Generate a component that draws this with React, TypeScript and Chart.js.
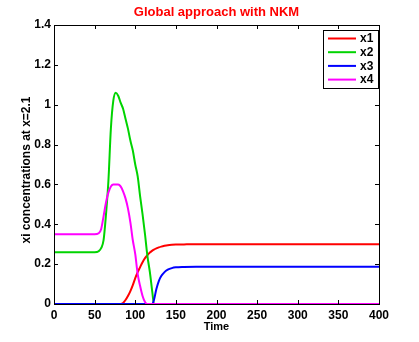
import React, { useEffect, useRef } from "react";
import { Chart, registerables } from "chart.js";

Chart.register(...registerables);

const titleText = "Global approach with NKM";
const xLabel = "Time";
const yLabel = "xi concentrations at x=2.1";
const seriesNames = ["x1", "x2", "x3", "x4"];
const seriesColors = ["#ff0000", "#00d400", "#0000ff", "#ff00ff"];

const times = [0, 50, 55, 58, 61, 64, 67, 70, 73, 76, 79, 82, 85, 88, 91, 94, 97, 100, 103, 106, 109, 112, 115, 118, 121, 123, 126, 129, 132, 136, 140, 145, 150, 160, 175, 200, 250, 300, 350, 400];

const x1 = [0, 0, 0, 0, 0, 0, 0, 0, 0, 0, 0, 0, 0.005, 0.02, 0.04, 0.065, 0.095, 0.13, 0.16, 0.185, 0.21, 0.23, 0.245, 0.258, 0.268, 0.273, 0.279, 0.284, 0.288, 0.292, 0.295, 0.297, 0.298, 0.299, 0.3, 0.3, 0.3, 0.3, 0.3, 0.3];
const x2 = [0.26, 0.26, 0.265, 0.28, 0.32, 0.45, 0.62, 0.88, 1.02, 1.06, 1.045, 1.01, 0.98, 0.93, 0.88, 0.82, 0.77, 0.7, 0.64, 0.54, 0.45, 0.35, 0.24, 0.16, 0.06, 0, 0, 0, 0, 0, 0, 0, 0, 0, 0, 0, 0, 0, 0, 0];
const x3 = [0, 0, 0, 0, 0, 0, 0, 0, 0, 0, 0, 0, 0, 0, 0, 0, 0, 0, 0, 0, 0, 0, 0, 0, 0, 0.02, 0.075, 0.115, 0.14, 0.16, 0.172, 0.18, 0.184, 0.186, 0.187, 0.187, 0.187, 0.187, 0.187, 0.187];
const x4 = [0.35, 0.35, 0.355, 0.375, 0.44, 0.51, 0.56, 0.59, 0.6, 0.6, 0.6, 0.59, 0.565, 0.53, 0.48, 0.41, 0.32, 0.25, 0.15, 0.09, 0.04, 0.01, 0, 0, 0, 0, 0, 0, 0, 0, 0, 0, 0, 0, 0, 0, 0, 0, 0, 0];

const seriesValues = [x1, x2, x3, x4];

const xMin = 0, xMax = 400, xStep = 50;
const yMin = 0, yMax = 1.4, yStep = 0.2;

const FONT = "'Liberation Sans', Arial, Helvetica, sans-serif";

const decorPlugin = {
  id: "decor",
  afterDraw(chart: any) {
    const { ctx, chartArea } = chart;
    const { left, right, top, bottom } = chartArea;
    const xs = chart.scales.x;
    const ys = chart.scales.y;
    ctx.save();
    ctx.strokeStyle = "#000";
    ctx.lineWidth = 1;
    ctx.strokeRect(Math.round(left) + 0.5, Math.round(top) + 0.5, Math.round(right - left), Math.round(bottom - top));
    const tl = 4;
    ctx.beginPath();
    for (let v = xMin; v <= xMax + 1e-9; v += xStep) {
      const px = Math.round(xs.getPixelForValue(v)) + 0.5;
      ctx.moveTo(px, bottom);
      ctx.lineTo(px, bottom - tl);
      ctx.moveTo(px, top);
      ctx.lineTo(px, top + tl);
    }
    for (let v = yMin; v <= yMax + 1e-9; v += yStep) {
      const py = Math.round(ys.getPixelForValue(v)) + 0.5;
      ctx.moveTo(left, py);
      ctx.lineTo(left + tl, py);
      ctx.moveTo(right, py);
      ctx.lineTo(right - tl, py);
    }
    ctx.stroke();

    ctx.fillStyle = "#ff0000";
    ctx.font = `bold 13px ${FONT}`;
    ctx.textAlign = "center";
    ctx.textBaseline = "middle";
    ctx.fillText(titleText, (left + right) / 2, 12);

    ctx.fillStyle = "#000";
    ctx.font = `bold 11px ${FONT}`;
    ctx.fillText(xLabel, (left + right) / 2, 327);
    ctx.save();
    ctx.translate(26.5, 170);
    ctx.rotate(-Math.PI / 2);
    ctx.font = `bold 12px ${FONT}`;
    ctx.fillText(yLabel, 0, 0);
    ctx.restore();

    const lx = 323, ly = 30, lw = 55, lh = 58;
    ctx.fillStyle = "#fff";
    ctx.fillRect(lx, ly, lw, lh);
    ctx.strokeStyle = "#000";
    ctx.lineWidth = 1;
    ctx.strokeRect(lx + 0.5, ly + 0.5, lw, lh);
    ctx.font = `bold 12px ${FONT}`;
    ctx.textAlign = "left";
    seriesNames.forEach((name, i) => {
      const y = 38.5 + i * 13.7;
      ctx.strokeStyle = seriesColors[i];
      ctx.lineWidth = 2;
      ctx.beginPath();
      ctx.moveTo(328, y);
      ctx.lineTo(356, y);
      ctx.stroke();
      ctx.fillStyle = "#000";
      ctx.fillText(name, 360, y + 0.5);
    });
    ctx.restore();
  },
};

export default function App() {
  const ref = useRef<HTMLCanvasElement | null>(null);
  useEffect(() => {
    if (!ref.current) return;
    const datasets = seriesNames.map((name, i) => ({
      label: name,
      data: times.map((t, j) => ({ x: t, y: seriesValues[i][j] })),
      borderColor: seriesColors[i],
      backgroundColor: seriesColors[i],
      borderWidth: 2,
      pointRadius: 0,
      tension: 0,
      cubicInterpolationMode: "monotone" as const,
      fill: false,
      order: seriesNames.length - i,
      clip: 2,
    }));
    const chart = new Chart(ref.current, {
      type: "line",
      data: { datasets },
      plugins: [decorPlugin],
      options: {
        animation: false,
        responsive: false,
        devicePixelRatio: 1,
        layout: { padding: { top: 25, right: 40, left: 0, bottom: 0 } },
        plugins: { legend: { display: false }, tooltip: { enabled: false }, title: { display: false } },
        scales: {
          x: {
            type: "linear",
            min: xMin,
            max: xMax,
            grid: { display: false, drawTicks: false },
            border: { display: false },
            ticks: { stepSize: xStep, color: "#000", font: { family: FONT, size: 12, weight: "bold" }, padding: 4, maxRotation: 0 },
            afterFit: (s: any) => { s.height = 38; },
          },
          y: {
            type: "linear",
            min: yMin,
            max: yMax,
            grid: { display: false, drawTicks: false },
            border: { display: false },
            ticks: {
              stepSize: yStep,
              color: "#000",
              font: { family: FONT, size: 12, weight: "bold" },
              padding: 3,
              callback: (v: any) => String(Math.round(Number(v) * 10) / 10),
            },
            afterFit: (s: any) => { s.width = 54; },
          },
        },
      },
    });
    return () => chart.destroy();
  }, []);
  return (
    <div style={{ position: "fixed", left: 0, top: 0, width: 419, height: 342, background: "#fff" }}>
      <canvas ref={ref} width={419} height={342} style={{ display: "block", width: 419, height: 342 }} />
    </div>
  );
}
